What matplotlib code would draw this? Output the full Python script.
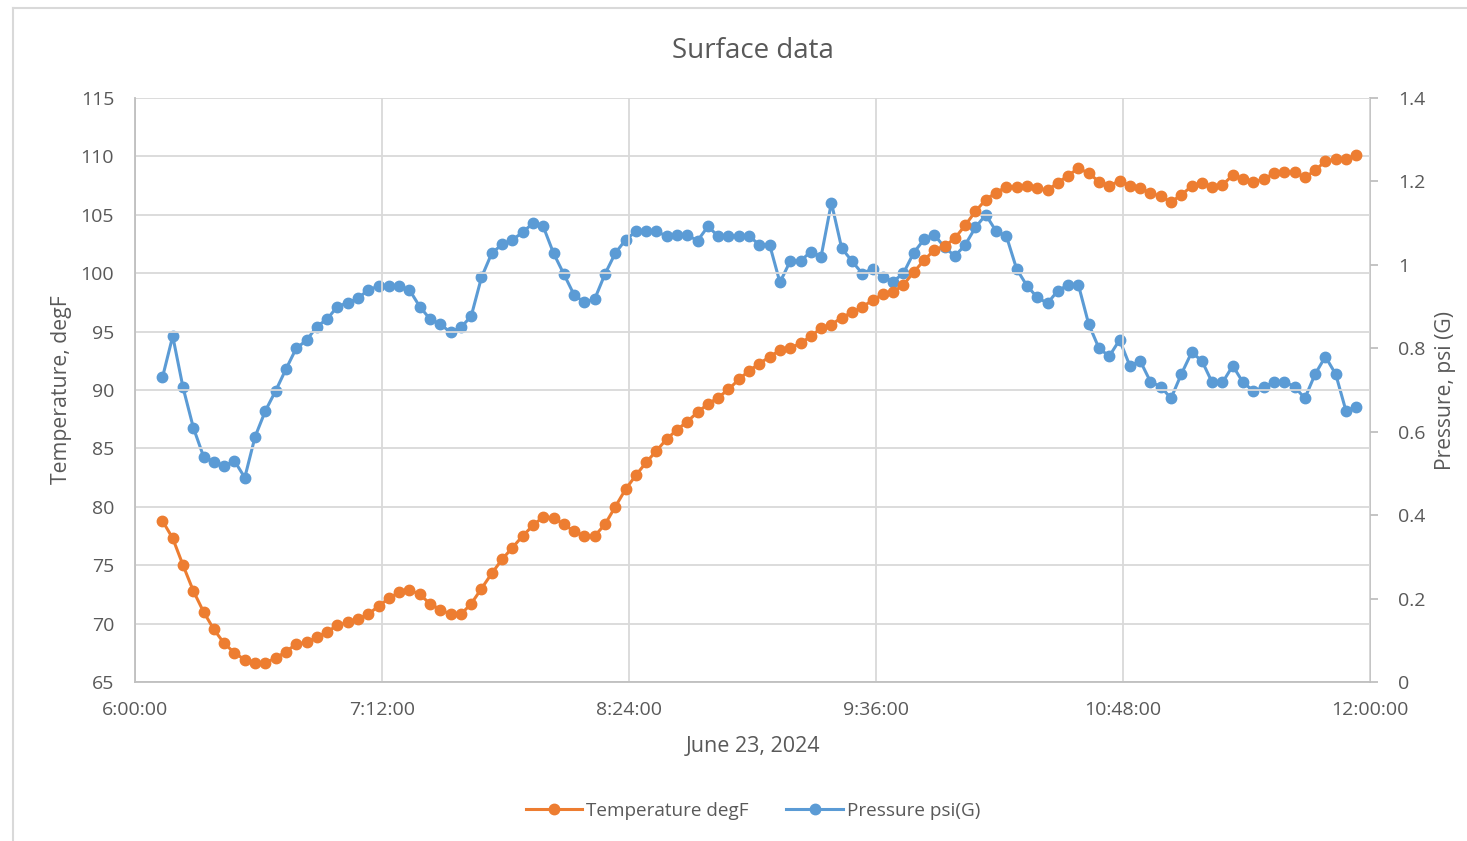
import numpy as np
import pandas as pd
import matplotlib
matplotlib.use("Agg")
import matplotlib.pyplot as plt
import matplotlib.dates as mdates
from matplotlib.lines import Line2D

plt.rcParams['font.family'] = ['Open Sans', 'DejaVu Sans']

# readings every 3 minutes starting 6:08
start = "2024-06-23 06:08"
step_min = 3

temp = [78.8, 77.3, 75.0, 72.8, 71.0, 69.5, 68.3, 67.5, 66.9, 66.65,
        66.65, 67.05, 67.6, 68.25, 68.4, 68.85, 69.3, 69.85, 70.1, 70.4,
        70.8, 71.5, 72.15, 72.7, 72.9, 72.5, 71.7, 71.2, 70.8, 70.8,
        71.7, 73.0, 74.3, 75.5, 76.5, 77.5, 78.4, 79.15, 79.05, 78.5,
        77.9, 77.5, 77.5, 78.5, 80.0, 81.5, 82.7, 83.8, 84.8, 85.8,
        86.6, 87.3, 88.1, 88.8, 89.35, 90.05, 90.9, 91.65, 92.25, 92.85,
        93.4, 93.6, 94.0, 94.6, 95.3, 95.6, 96.2, 96.65, 97.1, 97.7,
        98.2, 98.4, 99.0, 100.1, 101.1, 102.0, 102.3, 103.0, 104.1, 105.3,
        106.3, 106.9, 107.4, 107.4, 107.5, 107.3, 107.1, 107.75, 108.35, 109.0,
        108.55, 107.85, 107.5, 107.9, 107.5, 107.3, 106.85, 106.6, 106.1, 106.7,
        107.45, 107.75, 107.4, 107.55, 108.4, 108.1, 107.8, 108.05, 108.55, 108.65,
        108.65, 108.2, 108.8, 109.6, 109.75, 109.75, 110.1]

pres = [0.730, 0.829, 0.706, 0.610, 0.540, 0.528, 0.518, 0.530, 0.490, 0.588,
        0.650, 0.698, 0.750, 0.800, 0.819, 0.852, 0.870, 0.900, 0.909, 0.920,
        0.940, 0.949, 0.950, 0.949, 0.940, 0.900, 0.870, 0.858, 0.838, 0.850,
        0.877, 0.970, 1.028, 1.049, 1.060, 1.078, 1.100, 1.092, 1.028, 0.978,
        0.928, 0.910, 0.918, 0.978, 1.028, 1.060, 1.080, 1.080, 1.080, 1.069,
        1.071, 1.071, 1.058, 1.092, 1.069, 1.069, 1.069, 1.069, 1.048, 1.048,
        0.958, 1.009, 1.009, 1.032, 1.020, 1.149, 1.040, 1.009, 0.979, 0.991,
        0.972, 0.960, 0.980, 1.029, 1.061, 1.072, 1.042, 1.021, 1.048, 1.090,
        1.120, 1.081, 1.069, 0.990, 0.950, 0.922, 0.908, 0.938, 0.952, 0.952,
        0.858, 0.800, 0.781, 0.820, 0.758, 0.770, 0.720, 0.708, 0.680, 0.738,
        0.790, 0.770, 0.718, 0.718, 0.758, 0.718, 0.698, 0.706, 0.720, 0.720,
        0.708, 0.680, 0.738, 0.780, 0.738, 0.650, 0.660]

t = pd.date_range(start, periods=len(temp), freq=f"{step_min}min")

orange = "#ED7D31"
blue = "#5B9BD5"
txt = "#595959"
grid = "#D9D9D9"

fig = plt.figure(figsize=(14.67, 8.41), dpi=100)
ax = fig.add_axes([135/1467, 1-682/841, (1370-135)/1467, (682-98)/841])
ax2 = ax.twinx()

ax2.plot(t, pres, color=blue, lw=2.2, marker='o', ms=7.5, label="Pressure psi(G)", zorder=3)
ax.plot(t, temp, color=orange, lw=2.2, marker='o', ms=7.5, label="Temperature degF", zorder=3)
# temperature drawn over pressure, as in the original
ax.set_zorder(ax2.get_zorder() + 1)
ax.patch.set_visible(False)

ax.set_xlim(pd.Timestamp("2024-06-23 06:00"), pd.Timestamp("2024-06-23 12:00"))
ticks = pd.date_range("2024-06-23 06:00", "2024-06-23 12:00", freq="72min")
ax.set_xticks(ticks)
ax.xaxis.set_major_formatter(mdates.DateFormatter("%-H:%M:%S"))

ax.set_ylim(65, 115)
ax.set_yticks(np.arange(65, 116, 5))
ax2.set_ylim(0, 1.4)
ax2.set_yticks([0, 0.2, 0.4, 0.6, 0.8, 1.0, 1.2, 1.4])
ax2.set_yticklabels(["0", "0.2", "0.4", "0.6", "0.8", "1", "1.2", "1.4"])

ax.grid(True, color=grid, lw=1.3)
ax.set_axisbelow(True)

for a in (ax, ax2):
    for s in a.spines.values():
        s.set_visible(False)
ax.spines['left'].set_visible(True)
ax.spines['bottom'].set_visible(True)
ax2.spines['right'].set_visible(True)
for s in (ax.spines['left'], ax.spines['bottom'], ax2.spines['right']):
    s.set_color("#BFBFBF")
    s.set_linewidth(1.3)

ax.tick_params(axis='x', length=0, labelsize=14, labelcolor=txt, pad=14)
ax.tick_params(axis='y', length=0, labelsize=14, labelcolor=txt, pad=15)
ax2.tick_params(axis='y', length=6, color="#BFBFBF", width=1.3, labelsize=14,
                labelcolor=txt, pad=14)

ax.set_title("Surface data", fontsize=20, color=txt, pad=29)
ax.set_xlabel("June 23, 2024", fontsize=15.5, color=txt, labelpad=12)
ax.set_ylabel("Temperature, degF", fontsize=15.3, color=txt, labelpad=6)
ax2.set_ylabel("Pressure, psi (G)", fontsize=15.2, color=txt, labelpad=7)

h1, l1 = ax.get_legend_handles_labels()
h2, l2 = ax2.get_legend_handles_labels()
fig.legend(h1 + h2, l1 + l2, loc='center', bbox_to_anchor=(753/1467, 1-811/841),
           ncol=2, frameon=False, fontsize=13.6, labelcolor=txt,
           handlelength=3, handletextpad=0.2, columnspacing=2.0)

# chart area border
fig.add_artist(Line2D([13/1467, 13/1467], [0, 1-8/841], color="#D9D9D9", lw=1.5))
fig.add_artist(Line2D([13/1467, 1], [1-8/841, 1-8/841], color="#D9D9D9", lw=1.5))

fig.savefig("out.png", dpi=100)
